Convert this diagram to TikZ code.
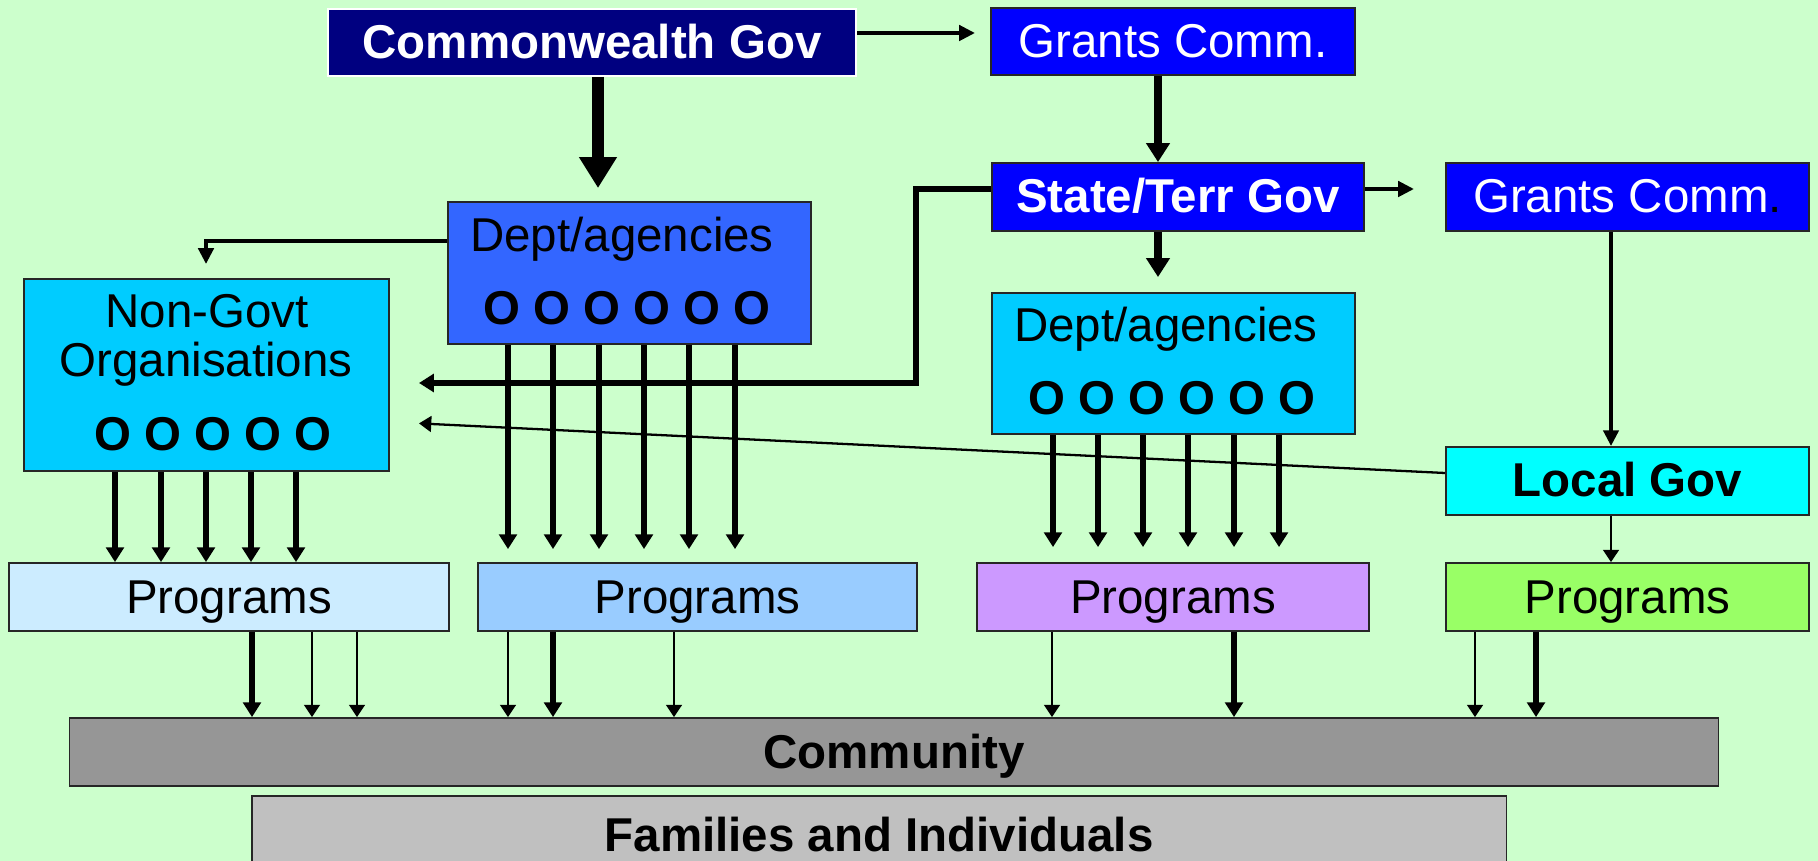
\documentclass[tikz,border=0pt]{standalone}
\usepackage{fontspec}
\setmainfont{Liberation Sans}
\usetikzlibrary{arrows.meta}
\definecolor{bggreen}{HTML}{CCFFCC}
\definecolor{cwblue}{HTML}{000080}
\definecolor{gcblue}{HTML}{0000FF}
\definecolor{deptblue}{HTML}{3366FF}
\definecolor{skyblue}{HTML}{00CCFF}
\definecolor{lgcyan}{HTML}{00FFFF}
\definecolor{progone}{HTML}{CCECFF}
\definecolor{progtwo}{HTML}{99CCFF}
\definecolor{progthree}{HTML}{CC99FF}
\definecolor{progfour}{HTML}{99FF66}
\definecolor{commgrey}{HTML}{969696}
\definecolor{famgrey}{HTML}{C0C0C0}
\newcommand\dfont{\fontsize{13.5}{16}\selectfont}
\begin{document}
\begin{tikzpicture}[x=0.01cm, y=-0.01cm,
    every node/.style={font=\dfont},
    box/.style={draw=black!85, line width=0.5pt, inner sep=0pt,
        text height=9.6pt, text depth=0.5pt, minimum height=0.68cm},
    lbl/.style={anchor=base, inner sep=0pt},
    cwline/.style={line width=3.3pt, -{Triangle[length=8.8pt,width=10.2pt]}},
    gcline/.style={line width=2.4pt, -{Triangle[length=5.4pt,width=6.5pt]}},
    thickarr/.style={line width=1.5pt, -{Triangle[length=4.2pt,width=5pt]}},
    medarr/.style={line width=1.2pt, -{Triangle[length=4.5pt,width=4.3pt]}},
    thinarr/.style={line width=0.65pt, -{Triangle[length=3.5pt,width=4.5pt]}}]
                \useasboundingbox (0,0) rectangle (1818,861);
                \clip (0,0) rectangle (1818,861);
                \fill[bggreen] (0,0) rectangle (1818,861);

                \node[box, fill=cwblue, draw=white, text=white, font=\dfont\bfseries, minimum width=5.28cm, minimum height=0.67cm] (cw) at (592,42.5) {Commonwealth Gov};
                \node[box, fill=gcblue, text=white, minimum width=3.64cm, minimum height=0.67cm] (gc1) at (1173,41.5) {Grants Comm.};
                \node[box, fill=gcblue, text=white, font=\dfont\bfseries, minimum width=3.72cm] (st) at (1178,197) {State/Terr Gov};
                \node[box, fill=gcblue, text=white, minimum width=3.63cm] (gc2) at (1627.5,197) {Grants Comm\textcolor{black}{.}};

                \node[box, fill=deptblue, minimum width=3.63cm, minimum height=1.42cm] (d1) at (629.5,273) {};
                \node[lbl] (d1t) at (622,252) {Dept/agencies};
                \node[lbl, font=\dfont\bfseries] (d1o) at (627,325) {O O O O O O};

                \node[box, fill=skyblue, minimum width=3.63cm, minimum height=1.41cm] (d2) at (1173.5,363.5) {};
                \node[lbl] (d2t) at (1166,342) {Dept/agencies};
                \node[lbl, font=\dfont\bfseries] (d2o) at (1172,415) {O O O O O O};

                \node[box, fill=skyblue, minimum width=3.65cm, minimum height=1.92cm] (ngo) at (206.5,375) {};
                \node[lbl] (ngo1) at (207,328) {Non-Govt};
                \node[lbl] (ngo2) at (206,377) {Organisations};
                \node[lbl, font=\dfont\bfseries] (ngoo) at (213,451) {O O O O O};

                \node[box, fill=lgcyan, font=\dfont\bfseries, minimum width=3.63cm] (lg) at (1627.5,481) {Local Gov};

                \node[box, fill=progone, minimum width=4.40cm] (p1) at (229,597) {Programs};
                \node[box, fill=progtwo, minimum width=4.39cm] (p2) at (697.5,597) {Programs};
                \node[box, fill=progthree, minimum width=3.92cm] (p3) at (1173,597) {Programs};
                \node[box, fill=progfour, minimum width=3.63cm] (p4) at (1627.5,597) {Programs};

                \node[box, fill=commgrey, font=\dfont\bfseries, minimum width=16.48cm] (com) at (894,752) {Community};
                \node[box, fill=famgrey, font=\dfont\bfseries, minimum width=12.54cm, minimum height=0.78cm] (fam) at (879,835) {Families and Individuals};

                % top level
                \draw[medarr, shorten >=0.15cm] (cw.east |- 0,33) -- (gc1.west |- 0,33);
                \draw[cwline, shorten >=0.13cm] (598,0 |- cw.south) -- (598,0 |- d1.north);
                \draw[gcline] (1158,0 |- gc1.south) -- (1158,0 |- st.north);
                \draw[gcline, shorten >=0.15cm] (1158,0 |- st.south) -- (1158,0 |- d2.north);
                \draw[medarr, shorten >=0.31cm] (st.east |- 0,189) -- (gc2.west |- 0,189);
                \draw[medarr] (1611,0 |- gc2.south) -- (1611,0 |- lg.north);
                \draw[thinarr] (1611,0 |- lg.south) -- (1611,0 |- p4.north);

                % into the NGOs
                \draw[thickarr, shorten >=0.29cm] (st.west |- 0,189) -| (916,383) -- (ngo.east |- 0,383);
                \draw[thinarr, shorten >=0.29cm] (lg.west |- 0,473) -- (ngo.east |- 0,422);
                \draw[medarr, shorten >=0.14cm] (d1.west |- 0,241) -| (206,0 |- ngo.north);

                % down to programs
                \foreach \x in {115,161,206,251,296}
                    \draw[thickarr] (\x,0 |- ngo.south) -- (\x,0 |- p1.north);
                \foreach \x in {508,553,599,644,689,735}
                    \draw[thickarr, shorten >=0.13cm] (\x,0 |- d1.south) -- (\x,0 |- p2.north);
                \foreach \x in {1053,1098,1143,1188,1234,1279}
                    \draw[thickarr, shorten >=0.15cm] (\x,0 |- d2.south) -- (\x,0 |- p3.north);

                % down to community
                \draw[thickarr] (252,0 |- p1.south) -- (252,0 |- com.north);
                \foreach \x in {312,357}
                    \draw[thinarr] (\x,0 |- p1.south) -- (\x,0 |- com.north);
                \draw[thickarr] (553,0 |- p2.south) -- (553,0 |- com.north);
                \foreach \x in {508,674}
                    \draw[thinarr] (\x,0 |- p2.south) -- (\x,0 |- com.north);
                \draw[thickarr] (1234,0 |- p3.south) -- (1234,0 |- com.north);
                \draw[thinarr] (1052,0 |- p3.south) -- (1052,0 |- com.north);
                \draw[thickarr] (1536,0 |- p4.south) -- (1536,0 |- com.north);
                \draw[thinarr] (1475,0 |- p4.south) -- (1475,0 |- com.north);

            \end{tikzpicture}
\end{document}
